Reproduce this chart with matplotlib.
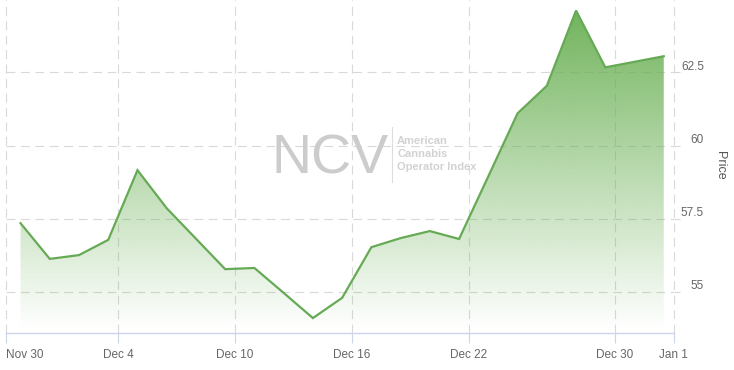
import numpy as np
import matplotlib
matplotlib.use("Agg")
import matplotlib.pyplot as plt
import matplotlib.transforms as mtrans
from matplotlib.lines import Line2D

plt.rcParams['font.family'] = ['Liberation Sans', 'DejaVu Sans']

# trading days (closing prices)
dates = ['Nov 30', 'Dec 1', 'Dec 2', 'Dec 3', 'Dec 4', 'Dec 7', 'Dec 8', 'Dec 9',
         'Dec 10', 'Dec 11', 'Dec 14', 'Dec 15', 'Dec 16', 'Dec 17', 'Dec 18',
         'Dec 21', 'Dec 22', 'Dec 23', 'Dec 24', 'Dec 28', 'Dec 29', 'Dec 30', 'Dec 31']
prices = [57.35, 56.13, 56.26, 56.78, 59.16, 57.86, 56.82, 55.78, 55.82, 54.97,
          54.11, 54.80, 56.53, 56.84, 57.08, 56.81, 58.95, 61.10, 62.04, 64.61,
          62.67, 62.86, 63.05]
tick_labels = ['Nov 30', 'Dec 4', 'Dec 10', 'Dec 16', 'Dec 22', 'Dec 30', 'Jan 1']
tick_days = [0, 4, 8, 12, 16, 21, 23]   # day index at midnight
y_ticks = [55, 57.5, 60, 62.5]

W, H = 734, 370
fig = plt.figure(figsize=(W / 100, H / 100), dpi=100)
ax = fig.add_axes([6 / W, 37 / H, 667.5 / W, 333 / H])

x = np.arange(len(prices)) + 16 / 24   # close at 16:00
x0, x1 = 0.17, 23
y0, y1 = 53.6, 64.97
base = 53.7

green = '#66aa55'
grid_c = '#d9d9d9'

# gradient fill under the line
poly = ax.fill_between(x, prices, base, facecolor='none', edgecolor='none')
grad = np.linspace(0.95, 0.0, 256)[:, None]
rgba = np.zeros((256, 1, 4))
rgba[..., 0] = 106 / 255
rgba[..., 1] = 176 / 255
rgba[..., 2] = 84 / 255
rgba[..., 3] = grad
im = ax.imshow(rgba, extent=[x0, x1, base, max(prices)], aspect='auto',
               origin='upper', zorder=1)
im.set_clip_path(poly.get_paths()[0], transform=ax.transData)

ax.plot(x, prices, color=green, lw=1.6, zorder=3, solid_joinstyle='miter')

ax.set_xlim(x0, x1)
ax.set_ylim(y0, y1)

# grid
for yt in y_ticks:
    ax.axhline(yt, color=grid_c, lw=0.8, ls=(0, (8, 5)), zorder=0)
xt = [x0] + tick_days[1:]
for xv in xt:
    ax.axvline(xv, color=grid_c, lw=0.8, ls=(0, (8, 5)), zorder=0, clip_on=False)

for s in ['top', 'left', 'right']:
    ax.spines[s].set_visible(False)
ax.spines['bottom'].set_color('#ccd6eb')
ax.spines['bottom'].set_linewidth(1)

ax.set_xticks(xt)
ax.set_xticklabels(tick_labels)
ax.tick_params(axis='x', length=7, color='#ccd6eb', labelcolor='#666666',
               labelsize=8.5, pad=4.5)
ax.get_xticklabels()[0].set_ha('left')

ax.yaxis.tick_right()
ax.set_yticks(y_ticks)
ax.set_yticklabels(['55', '57.5', '60', '62.5'])
ax.tick_params(axis='y', length=4, color=grid_c, labelcolor='#666666',
               labelsize=8.5, pad=0)
off = mtrans.ScaledTranslation(25 / 100, 7 / 100, fig.dpi_scale_trans)
for lab in ax.get_yticklabels():
    lab.set_ha('right')
    lab.set_transform(lab.get_transform() + off)

fig.text(720 / W, 1 - 165 / H, 'Price', rotation=-90, ha='center', va='center',
         fontsize=9, color='#555555')

# watermark
fig.text(272 / W, 1 - 173 / H, 'NCV', fontsize=40, color='#cccccc',
         ha='left', va='baseline', zorder=0)
fig.add_artist(Line2D([392 / W, 392 / W], [1 - 127 / H, 1 - 182 / H],
                      color='#dddddd', lw=0.8))
for txt, yb in [('American', 144), ('Cannabis', 157), ('Operator Index', 170)]:
    fig.text(397 / W, 1 - yb / H, txt, fontsize=8, fontweight='bold',
             color='#d2d2d2', ha='left', va='baseline')

fig.savefig('out.png', dpi=100)
